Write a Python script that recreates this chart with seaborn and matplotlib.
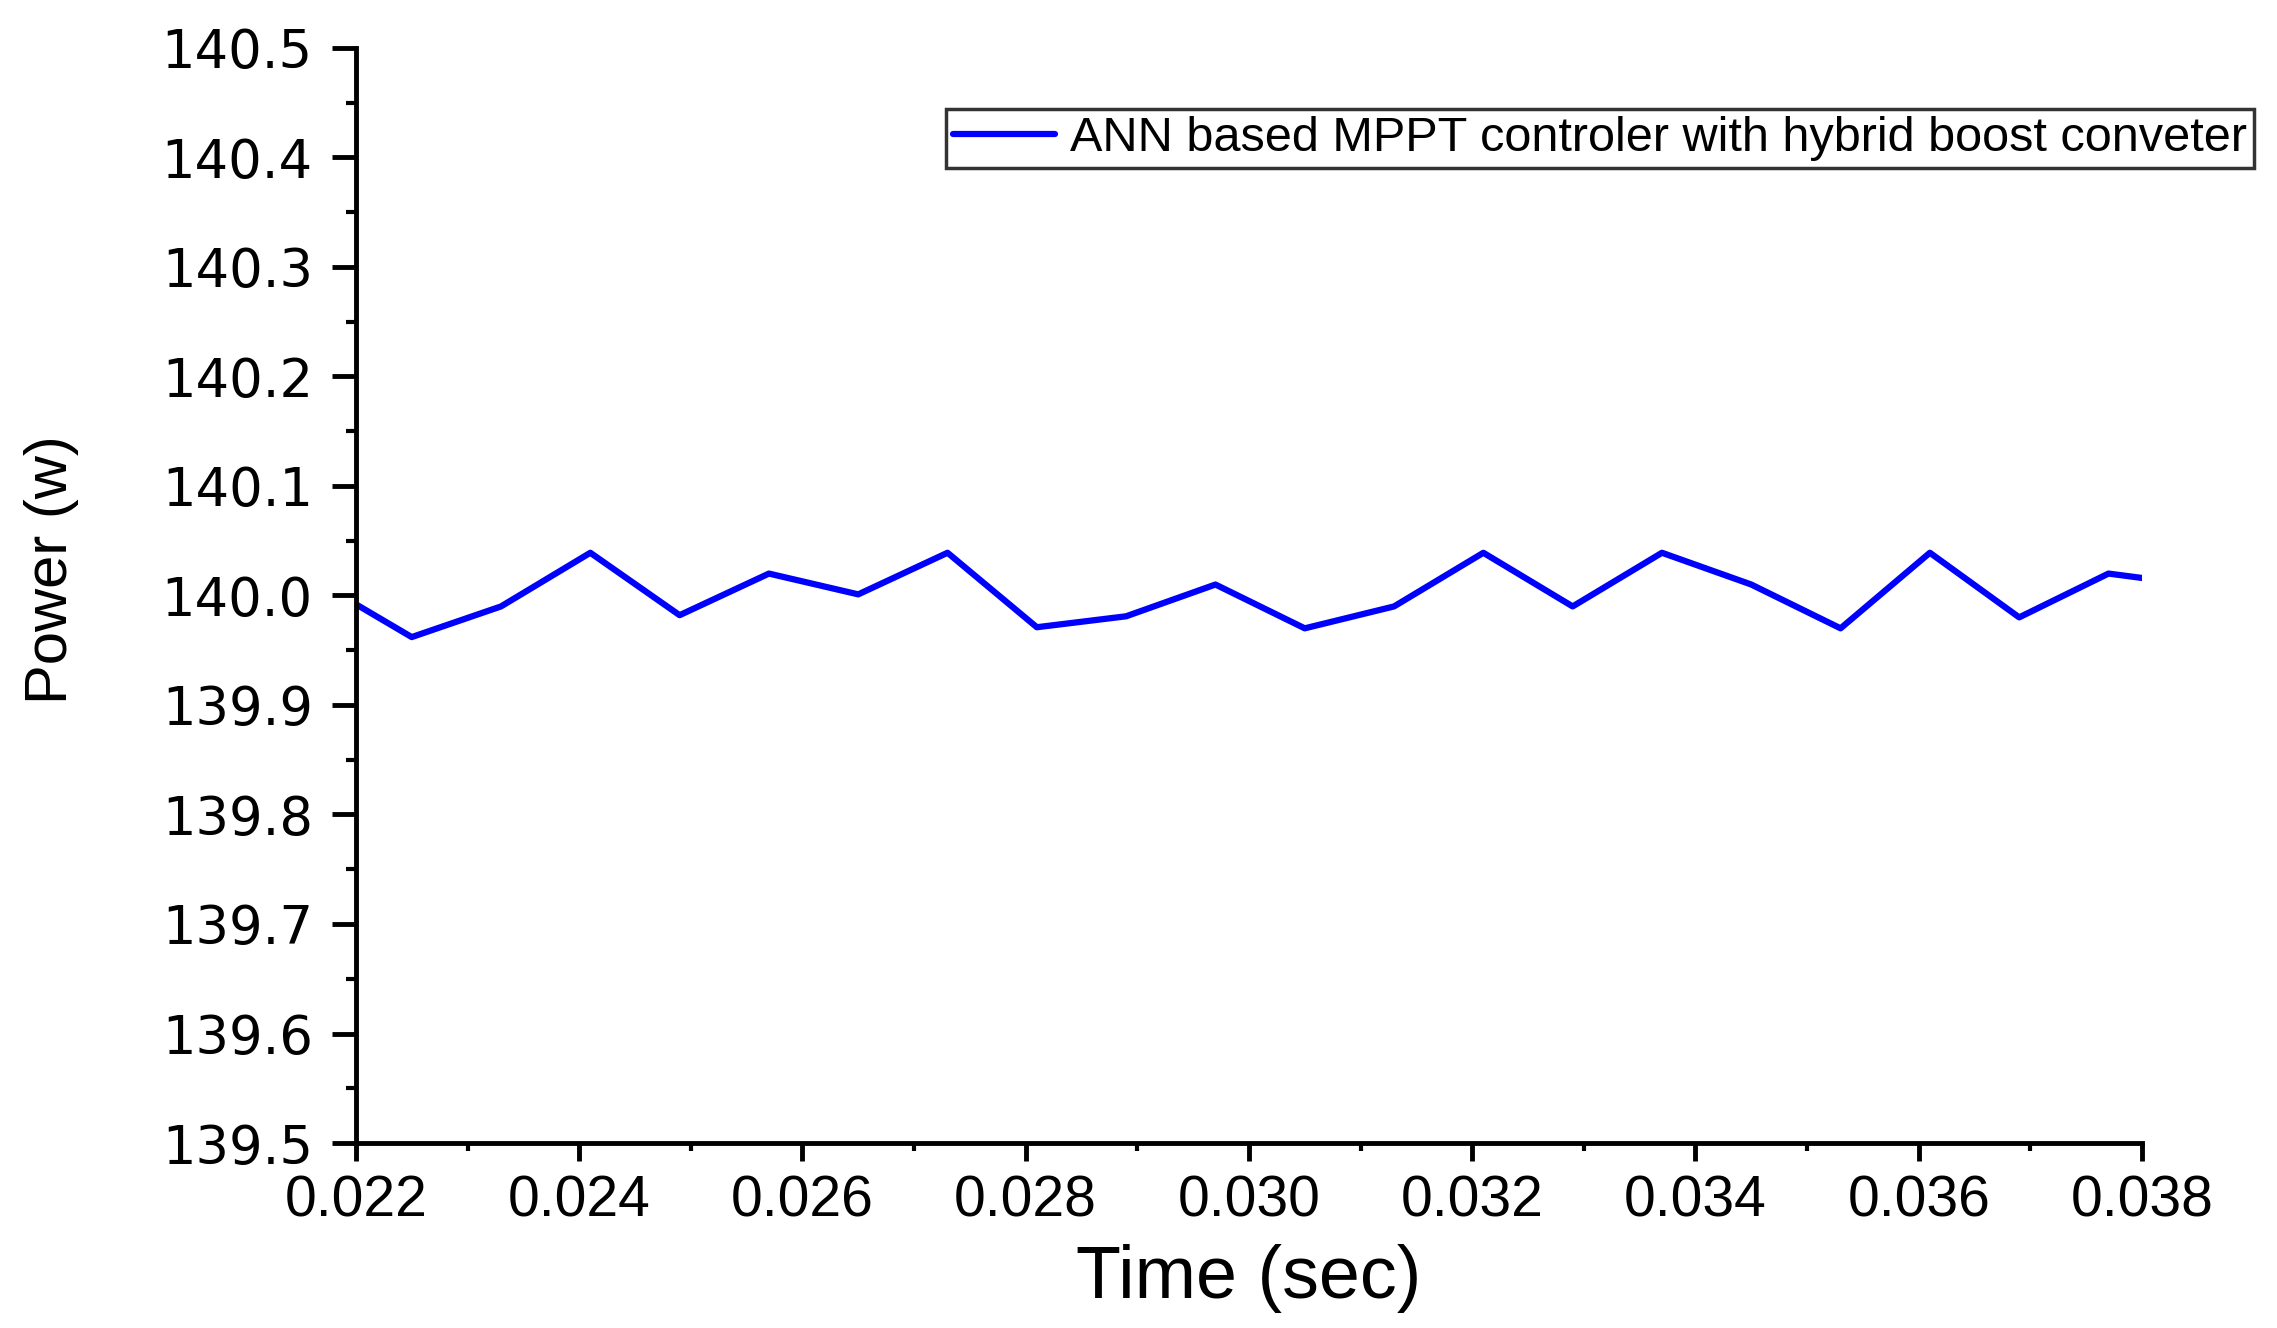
import numpy as np
import pandas as pd
import matplotlib
matplotlib.use("Agg")
import matplotlib.pyplot as plt
import seaborn as sns
from matplotlib.ticker import MultipleLocator, FormatStrFormatter

# Valores
tempo = [0.0220, 0.0225, 0.0233, 0.0241, 0.0249, 0.0257, 0.0265, 0.0273,
         0.0281, 0.0289, 0.0297, 0.0305, 0.0313, 0.0321, 0.0329, 0.0337,
         0.0345, 0.0353, 0.0361, 0.0369, 0.0377, 0.0380]
potencia = [139.992, 139.962, 139.990, 140.039, 139.982, 140.020, 140.001, 140.039,
            139.971, 139.981, 140.010, 139.970, 139.990, 140.039, 139.990, 140.039,
            140.010, 139.970, 140.039, 139.980, 140.020, 140.016]
rotulo = 'ANN based MPPT controler with hybrid boost conveter'

df = pd.DataFrame({'tempo': tempo, 'potencia': potencia})

sns.set_style('ticks')
plt.rcParams['font.family'] = ['Liberation Sans', 'DejaVu Sans']
plt.rcParams['text.color'] = 'black'
plt.rcParams['axes.labelcolor'] = 'black'
plt.rcParams['xtick.color'] = 'black'
plt.rcParams['ytick.color'] = 'black'

fig = plt.figure(figsize=(22.77, 13.28), dpi=100)
ax = fig.add_axes([0.1563, 0.1393, 0.7844, 0.8246])

sns.lineplot(data=df, x='tempo', y='potencia', ax=ax, color='#0000FF',
             linewidth=4.5, label=rotulo)

ax.set_xlim(0.022, 0.038)
ax.set_ylim(139.5, 140.5)
ax.xaxis.set_major_locator(MultipleLocator(0.002))
ax.xaxis.set_minor_locator(MultipleLocator(0.001))
ax.yaxis.set_major_locator(MultipleLocator(0.1))
ax.yaxis.set_minor_locator(MultipleLocator(0.05))
ax.xaxis.set_major_formatter(FormatStrFormatter('%.3f'))
ax.yaxis.set_major_formatter(FormatStrFormatter('%.1f'))

for s in ['top', 'right']:
    ax.spines[s].set_visible(False)
for s in ['left', 'bottom']:
    ax.spines[s].set_linewidth(3.5)
    ax.spines[s].set_color('black')

ax.tick_params(axis='y', which='major', length=17, width=3.5, labelsize=38, pad=14, direction='out')
ax.tick_params(axis='y', which='minor', length=7, width=3, direction='out')
ax.tick_params(axis='x', which='major', length=13, width=3.5, labelsize=41, pad=10, direction='out')
ax.tick_params(axis='x', which='minor', length=6, width=3, direction='out')
for t in ax.get_yticklabels():
    t.set_family('DejaVu Sans')

ax.set_xlabel('Time (sec)', fontsize=53)
ax.set_ylabel('Power (w)', fontsize=43)
ax.xaxis.set_label_coords(0.5, -0.092)
ax.yaxis.set_label_coords(-0.155, 0.524)

leg = ax.legend(loc='upper right', bbox_to_anchor=(0.990, 0.918),
                bbox_transform=fig.transFigure, fontsize=35, frameon=True,
                fancybox=False, borderpad=0.15, handlelength=2.1,
                handletextpad=0.3, borderaxespad=0)
leg.get_frame().set_edgecolor('black')
leg.get_frame().set_linewidth(2.5)

fig.savefig('out.png', dpi=100)
